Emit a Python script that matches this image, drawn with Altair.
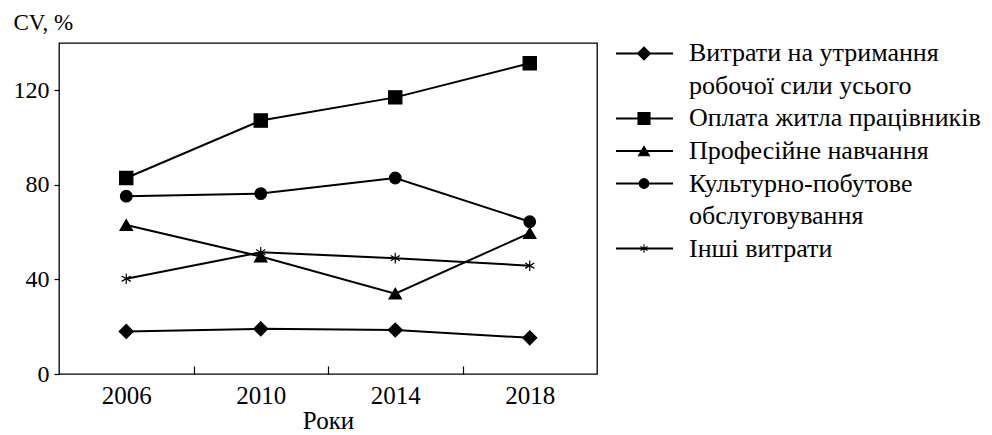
import altair as alt
import pandas as pd

# ---- data ----
YEARS = [2006, 2010, 2014, 2018]
SERIES = [
    "Витрати на утримання робочої сили усього",
    "Оплата житла працівників",
    "Професійне навчання",
    "Культурно-побутове обслуговування",
    "Інші витрати",
]
LEGEND_LINES = [
    ["Витрати на утримання", "робочої сили усього"],
    ["Оплата житла працівників"],
    ["Професійне навчання"],
    ["Культурно-побутове", "обслуговування"],
    ["Інші витрати"],
]
V_LABOUR = [18.0, 19.1, 18.6, 15.3]
V_HOUSING = [82.9, 107.2, 117.0, 131.4]
V_TRAINING = [63.0, 49.7, 34.0, 59.6]
V_CULTURE = [75.2, 76.3, 82.9, 64.4]
V_OTHER = [40.3, 51.5, 49.0, 45.8]
Y_TICKS = [0, 40, 80, 120]
X_MINOR_TICKS = [2008, 2012, 2016]

ASTERISK = "M0,-1L0,1M-0.866,-0.5L0.866,0.5M-0.866,0.5L0.866,-0.5"
SHAPES = ["diamond", "square", "triangle-up", "circle", ASTERISK]
PLOT_SIZES = [196, 114, 225, 137, 121]
LEGEND_SIZES = [169, 69, 144, 114, 54]
FONT = "Liberation Serif"

values = [V_LABOUR, V_HOUSING, V_TRAINING, V_CULTURE, V_OTHER]
df = pd.DataFrame(
    [{"series": s, "year": y, "value": v}
     for s, vals in zip(SERIES, values) for y, v in zip(YEARS, vals)]
)

x_scale = alt.Scale(domain=[2004, 2020], nice=False, zero=False)
y_scale = alt.Scale(domain=[0, 140], nice=False)

base = alt.Chart(df)
lines = base.mark_line(color="black", strokeWidth=2).encode(
    x=alt.X("year:Q", scale=x_scale,
            axis=alt.Axis(values=YEARS, format="d", ticks=False, domain=False, grid=False,
                          labelPadding=9, labelFontSize=25, title="Роки", titlePadding=0,
                          titleFontSize=25, orient="bottom")),
    y=alt.Y("value:Q", scale=y_scale,
            axis=alt.Axis(values=Y_TICKS, grid=False, domain=False, tickSize=5,
                          labelPadding=5, labelFontSize=24, title="CV, %", titleAngle=0,
                          titleFontSize=23, titleX=-46, titleY=-21, titleAlign="left",
                          titleBaseline="middle")),
    detail="series:N",
)
points = base.mark_point(filled=True, fill="black", stroke="black", strokeWidth=1.2,
                         opacity=1).encode(
    x=alt.X("year:Q", scale=x_scale,
            axis=alt.Axis(values=X_MINOR_TICKS, labels=False, domain=False, grid=False,
                          tickSize=8, offset=-8, title=None, orient="bottom")),
    y=alt.Y("value:Q", scale=y_scale),
    shape=alt.Shape("series:N", scale=alt.Scale(domain=SERIES, range=SHAPES), legend=None),
    size=alt.Size("series:N", scale=alt.Scale(domain=SERIES, range=PLOT_SIZES), legend=None),
)
main = alt.layer(lines, points).resolve_axis(x="independent").properties(width=538, height=331)

# ---- legend built from the series names ----
rows = []
for s, parts in zip(SERIES, LEGEND_LINES):
    for j, t in enumerate(parts):
        rows.append({"row": len(rows), "text": t, "series": s if j == 0 else ""})
leg = pd.DataFrame(rows)
row_scale = alt.Scale(type="point", padding=0.323, domain=list(range(len(rows))))
lbase = alt.Chart(leg)
lrule = lbase.transform_filter("datum.series != ''").mark_rule(color="black", strokeWidth=2).encode(
    x=alt.value(0), x2=alt.value(57), y=alt.Y("row:O", scale=row_scale, axis=None))
lpts = lbase.transform_filter("datum.series != ''").mark_point(
    filled=True, fill="black", stroke="black", strokeWidth=1.1, opacity=1).encode(
    x=alt.value(28), y=alt.Y("row:O", scale=row_scale, axis=None),
    shape=alt.Shape("series:N", scale=alt.Scale(domain=SERIES, range=SHAPES), legend=None),
    size=alt.Size("series:N", scale=alt.Scale(domain=SERIES, range=LEGEND_SIZES), legend=None),
)
ltext = lbase.mark_text(align="left", baseline="middle", font=FONT, fontSize=26,
                        color="black").encode(
    x=alt.value(73), y=alt.Y("row:O", scale=row_scale, axis=None), text="text:N")
legend = alt.layer(lrule, lpts, ltext).properties(
    width=350, height=216, view=alt.ViewBackground(stroke=None))

chart = alt.hconcat(main, legend, spacing=19, bounds="flush").resolve_scale(
    shape="independent", size="independent", y="independent", x="independent"
).properties(
    padding={"left": 4, "top": 2, "right": 0, "bottom": 0}
).configure_view(
    stroke="black", strokeWidth=1.3
).configure_axis(
    labelFont=FONT, labelFontSize=24, labelColor="black",
    titleFont=FONT, titleFontSize=24, titleColor="black", titleFontWeight="normal",
    tickColor="black", tickWidth=1.2,
)

chart.save("out.html", embed_options={"renderer": "svg", "actions": False})
